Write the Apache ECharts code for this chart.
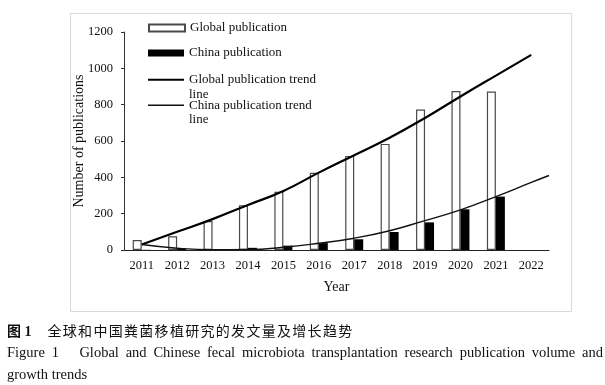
<!DOCTYPE html>
<html>
<head>
<meta charset="utf-8">
<script src="https://cdn.jsdelivr.net/npm/echarts@6/dist/echarts.min.js"></script>
<style>
  html, body { margin: 0; padding: 0; background: #fff; }
  #wrap { position: relative; width: 605px; height: 385px; overflow: hidden; }
  #chart { position: absolute; left: 0; top: 0; width: 605px; height: 385px; }
  .cap { position: absolute; left: 7px; color: #111; white-space: nowrap; }
  #capZh { top: 320px; font-family: "Noto Sans CJK SC", sans-serif; font-size: 14px; line-height: 20px; letter-spacing: 1.3px; }
  #capZh b { font-family: "Liberation Serif", "Noto Sans CJK SC", serif; font-weight: bold; letter-spacing: 0; margin-right: 16px; }
  #capEn1 { top: 342px; width: 596px; font-family: "Liberation Serif", serif; font-size: 14.5px; line-height: 21px; text-align: justify; text-align-last: justify; white-space: normal; }
  #capEn2 { top: 364px; font-family: "Liberation Serif", serif; font-size: 14.5px; line-height: 21px; }
</style>
</head>
<body>
<div id="wrap">
  <div id="chart"></div>
  <div class="cap" id="capZh"><b>图 1</b>全球和中国粪菌移植研究的发文量及增长趋势</div>
  <div class="cap" id="capEn1">Figure 1&nbsp;&nbsp;&nbsp;Global and Chinese fecal microbiota transplantation research publication volume and</div>
  <div class="cap" id="capEn2">growth trends</div>
</div>
<script>
// ---- data ----
var years = ['2011','2012','2013','2014','2015','2016','2017','2018','2019','2020','2021','2022'];
var globalPubs = [55, 75, 160, 246, 320, 425, 518, 584, 773, 875, 872, null];
var chinaPubs  = [1, 7, 4, 12, 24, 38, 59, 99, 152, 224, 294, null];
var globalTrendYears = [2011, 2012, 2013, 2014, 2015, 2016, 2017, 2018, 2019, 2020, 2021, 2022];
var globalTrend      = [30, 100, 170, 248, 325, 426, 522, 618, 727, 845, 960, 1074];
var chinaTrendYears  = [2011, 2012, 2013, 2014, 2015, 2016, 2017, 2018, 2019, 2020, 2021, 2022, 2022.5];
var chinaTrend       = [30, 10, 2, 3, 15, 37, 65, 106, 162, 221, 294, 372, 410];
var yTicks = [0, 200, 400, 600, 800, 1000, 1200];

var serif = '"Liberation Serif", "Times New Roman", serif';

function pairs(xs, ys) { return xs.map(function (x, i) { return [x, ys[i]]; }); }

var chart = echarts.init(document.getElementById('chart'), null, { renderer: 'canvas' });

function legendCfg(name, top, itemHeight, multi) {
  return {
    show: true,
    data: [{ name: name, icon: 'rect' }],
    left: 148,
    top: top,
    padding: 0,
    itemWidth: 36,
    itemHeight: itemHeight,
    selectedMode: false,
    formatter: function (n) { return multi ? '\n' + n.replace(' line', '\nline') : n; },
    textStyle: { fontFamily: serif, fontSize: 13, color: '#111', lineHeight: multi ? 14.5 : 14 }
  };
}

var option = {
  animation: false,
  backgroundColor: '#fff',
  graphic: [{
    type: 'rect', left: 68, top: 11, z: -10, silent: true,
    shape: { width: 501, height: 298 },
    style: { fill: 'none', stroke: '#d9d9d9', lineWidth: 1 }
  }],
  legend: [
    legendCfg('Global publication', 21, 7, false),
    legendCfg('China publication', 46, 7, false),
    legendCfg('Global publication trend line', 58, 2, true),
    legendCfg('China publication trend line', 83.5, 1.5, true)
  ],
  grid: { left: 124, right: 56, top: 32, bottom: 135, containLabel: false },
  xAxis: [{
    type: 'category',
    data: years,
    boundaryGap: true,
    name: 'Year',
    nameLocation: 'middle',
    nameGap: 30,
    nameTextStyle: { fontFamily: serif, fontSize: 14, color: '#111' },
    axisLine: { show: true, lineStyle: { color: '#222', width: 1 } },
    axisTick: { show: false },
    axisLabel: { fontFamily: serif, fontSize: 12.5, color: '#111', margin: 9 },
    splitLine: { show: false }
  }, {
    type: 'value',
    min: 2010.5,
    max: 2022.5,
    show: false,
    splitLine: { show: false }
  }],
  yAxis: {
    type: 'value',
    min: yTicks[0],
    max: yTicks[yTicks.length - 1],
    interval: yTicks[1] - yTicks[0],
    name: 'Number of publications',
    nameLocation: 'middle',
    nameRotate: 90,
    nameGap: 38,
    nameMoveOverlap: false,
    nameTextStyle: { fontFamily: serif, fontSize: 14, color: '#111' },
    axisLine: { show: true, lineStyle: { color: '#333', width: 1 } },
    axisTick: { show: true, inside: false, length: 3, lineStyle: { color: '#333' } },
    axisLabel: { fontFamily: serif, fontSize: 12.5, color: '#111', margin: 11,
                 formatter: function (v) { return String(v); } },
    splitLine: { show: false }
  },
  series: [{
    name: 'Global publication',
    type: 'bar',
    xAxisIndex: 0,
    data: globalPubs,
    barWidth: 9,
    barGap: '0%',
    itemStyle: { color: '#ffffff', borderColor: '#4a4a4a', borderWidth: 1.2 }
  }, {
    name: 'China publication',
    type: 'bar',
    xAxisIndex: 0,
    data: chinaPubs,
    barWidth: 9,
    barGap: '0%',
    itemStyle: { color: '#000000' }
  }, {
    name: 'Global publication trend line',
    type: 'line',
    xAxisIndex: 1,
    data: pairs(globalTrendYears, globalTrend),
    smooth: true,
    symbol: 'none',
    z: 5,
    itemStyle: { color: '#000' },
    lineStyle: { color: '#000', width: 2.2 }
  }, {
    name: 'China publication trend line',
    type: 'line',
    xAxisIndex: 1,
    data: pairs(chinaTrendYears, chinaTrend),
    smooth: true,
    symbol: 'none',
    z: 5,
    itemStyle: { color: '#111' },
    lineStyle: { color: '#111', width: 1.4 }
  }]
};
chart.setOption(option);
</script>
</body>
</html>
